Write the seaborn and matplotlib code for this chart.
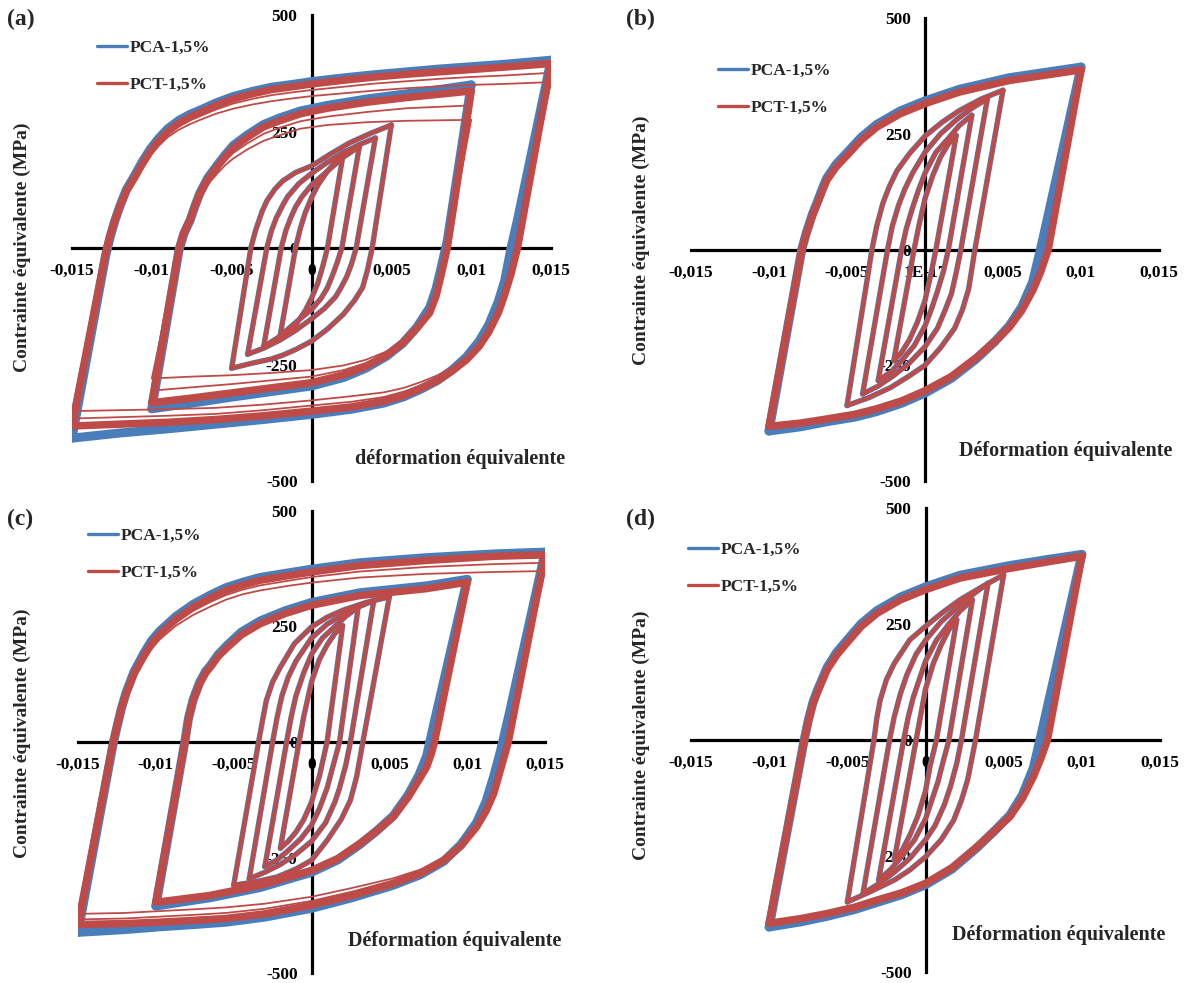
import matplotlib
matplotlib.use("Agg")
import matplotlib.pyplot as plt
from matplotlib.lines import Line2D
import seaborn as sns

# ---------------- values (strain [-], stress [MPa]) ----------------
SERIES = ["PCA-1,5%", "PCT-1,5%"]
XTICKS = [-0.015, -0.01, -0.005, 0, 0.005, 0.01, 0.015]
XTICK_LABELS = ["-0,015", "-0,01", "-0,005", "0", "0,005", "0,01", "0,015"]
XTICK_LABELS_B = ["-0,015", "-0,01", "-0,005", "1E-17", "0,005", "0,01", "0,015"]
YTICKS = [-500, -250, 0, 250, 500]
YTICK_LABELS = ["-500", "-250", "0", "250", "500"]
YMINOR = [-375, -125, 125, 375]

# ---- panel (a) ----
A15_UP_X = [-0.015, -0.0129, -0.0126, -0.0123, -0.012, -0.0116, -0.0111, -0.0106, -0.0101, -0.0096, -0.009, -0.0083, -0.0076, -0.0069, -0.006, -0.0049, -0.0037, -0.0025, -0.0012, 0.0, 0.002, 0.004, 0.006, 0.008, 0.010, 0.012, 0.015]
A15_UP_PCT = [-382, -10, 30, 62, 89, 122, 150, 180, 207, 229, 250, 268, 281, 292, 306, 320, 331, 340, 346, 352, 360, 367, 373, 378, 383, 388, 396]
A15_UP_PCA = [-408, -18, 25, 60, 90, 125, 154, 185, 212, 234, 256, 274, 287, 297, 311, 325, 336, 345, 351, 357, 365, 372, 378, 384, 389, 394, 403]
A15_UP_PCT_C1 = [-350, 5, 40, 68, 92, 120, 148, 175, 198, 218, 238, 254, 266, 276, 288, 299, 308, 315, 321, 326, 332, 338, 343, 347, 350, 352, 356]
A15_UP_PCT_C2 = [-366, -3, 35, 65, 90, 121, 149, 178, 203, 224, 244, 261, 274, 284, 297, 310, 320, 328, 334, 339, 346, 353, 358, 363, 367, 370, 376]
A15_DN_X = [-0.015, -0.012, -0.009, -0.006, -0.003, 0.0, 0.0025, 0.0045, 0.0058, 0.0069, 0.0079, 0.0088, 0.0097, 0.0105, 0.0111, 0.0117, 0.0121, 0.0125, 0.0129, 0.015]
A15_DN_PCT = [-382, -378, -374, -368, -360, -350, -341, -329, -316, -300, -284, -264, -240, -211, -180, -139, -100, -55, 0, 396]
A15_DN_PCA = [-408, -397, -388, -378, -368, -357, -346, -333, -319, -302, -284, -262, -234, -200, -165, -115, -70, 0, 60, 403]
A15_DN_PCT_C1 = [-350, -348, -346, -343, -336, -327, -318, -310, -300, -287, -273, -256, -234, -207, -177, -139, -100, -55, 0, 356]
A15_DN_PCT_C2 = [-366, -363, -360, -356, -348, -338, -330, -320, -308, -294, -279, -260, -237, -209, -179, -139, -100, -55, 0, 376]

A10_UP_X = [-0.010, -0.0083, -0.008, -0.0076, -0.0073, -0.007, -0.0065, -0.0059, -0.0054, -0.0049, -0.004, -0.003, -0.002, -0.0007, 0.001, 0.0035, 0.006, 0.008, 0.010]
A10_UP_PCT = [-332, 0, 33, 61, 90, 116, 148, 175, 196, 215, 238, 260, 273, 288, 300, 313, 323, 330, 337]
A10_UP_PCA = [-345, -5, 30, 60, 90, 117, 150, 178, 200, 220, 243, 265, 279, 294, 306, 320, 331, 340, 350]
A10_UP_PCT_C1 = [-280, 0, 32, 58, 84, 108, 136, 160, 178, 192, 212, 230, 242, 256, 264, 270, 273, 274, 275]
A10_UP_PCT_C2 = [-306, 0, 33, 60, 87, 112, 142, 168, 187, 204, 225, 245, 258, 272, 282, 292, 300, 303, 306]
A10_DN_X = [-0.010, -0.0075, -0.005, -0.0025, 0.0, 0.002, 0.0034, 0.0047, 0.0057, 0.0066, 0.0074, 0.0078, 0.0081, 0.0085, 0.010]
A10_DN_PCT = [-332, -322, -311, -300, -289, -272, -254, -230, -204, -172, -139, -103, -61, 0, 337]
A10_DN_PCA = [-345, -333, -320, -308, -296, -278, -258, -232, -205, -170, -128, -88, -45, 15, 350]
A10_DN_PCT_C1 = [-280, -276, -273, -268, -262, -252, -240, -222, -200, -172, -139, -103, -61, 0, 275]
A10_DN_PCT_C2 = [-306, -299, -292, -284, -276, -262, -247, -226, -202, -172, -139, -103, -61, 0, 306]

A05_UP_X = [-0.005, -0.0038, -0.0035, -0.0031, -0.0028, -0.0023, -0.0018, -0.001, 0.0, 0.0012, 0.0024, 0.0037, 0.005]
A05_UP = [-258, 0, 38, 78, 101, 126, 144, 162, 176, 202, 226, 246, 264]
A05_DN_X = [-0.005, -0.0037, -0.0025, -0.0018, -0.001, 0.0, 0.001, 0.002, 0.0027, 0.0032, 0.0035, 0.0038, 0.005]
A05_DN = [-258, -247, -238, -230, -218, -200, -174, -142, -112, -85, -48, 0, 264]
A04_UP_X = [-0.004, -0.0028, -0.0025, -0.0022, -0.0018, -0.0015, -0.0008, 0.0, 0.001, 0.002, 0.003, 0.004]
A04_UP = [-228, 0, 38, 65, 92, 110, 138, 160, 184, 205, 222, 236]
A04_DN_X = [-0.004, -0.003, -0.002, -0.001, 0.0, 0.0008, 0.0015, 0.0018, 0.0022, 0.0025, 0.0028, 0.004]
A04_DN = [-228, -215, -198, -177, -152, -130, -105, -88, -62, -35, 0, 236]
A03_UP_X = [-0.003, -0.0019, -0.0016, -0.0013, -0.001, -0.0006, 0.0, 0.001, 0.002, 0.003]
A03_UP = [-212, 0, 38, 65, 88, 110, 135, 165, 195, 218]
A03_DN_X = [-0.003, -0.002, -0.001, 0.0, 0.0006, 0.001, 0.0013, 0.0016, 0.0019, 0.003]
A03_DN = [-212, -190, -160, -132, -108, -85, -60, -32, 0, 218]
A02_UP_X = [-0.002, -0.001, -0.0007, -0.0004, 0.0, 0.0004, 0.001, 0.002]
A02_UP = [-195, 0, 42, 75, 108, 135, 165, 205]
A02_DN_X = [-0.002, -0.001, -0.0004, 0.0, 0.0004, 0.0007, 0.001, 0.002]
A02_DN = [-195, -165, -135, -108, -75, -40, 0, 205]

# ---- panel (b) ----
B10_UP_X = [-0.010, -0.0079, -0.0076, -0.0072, -0.0069, -0.0066, -0.0063, -0.0057, -0.005, -0.0041, -0.0031, -0.0016, 0.0, 0.0022, 0.0054, 0.008, 0.010]
B10_UP_PCT = [-382, 0, 35, 75, 99, 125, 149, 178, 203, 236, 264, 293, 315, 340, 365, 378, 388]
B10_UP_PCA = [-392, 0, 37, 78, 103, 130, 154, 184, 209, 242, 270, 299, 321, 346, 371, 384, 394]
B10_DN_X = [-0.010, -0.008, -0.0063, -0.0045, -0.0031, -0.0015, 0.0, 0.0017, 0.0033, 0.0045, 0.0054, 0.0062, 0.0069, 0.0074, 0.0079, 0.010]
B10_DN_PCT = [-382, -375, -366, -356, -344, -327, -305, -274, -233, -198, -168, -132, -89, -50, 0, 388]
B10_DN_PCA = [-392, -383, -372, -362, -350, -332, -310, -278, -236, -198, -165, -124, -70, 0, 75, 394]

B05_UP_X = [-0.005, -0.0034, -0.0031, -0.0027, -0.0023, -0.0018, -0.001, 0.0, 0.0011, 0.0022, 0.0036, 0.005]
B05_UP = [-337, 0, 50, 100, 135, 170, 207, 245, 275, 300, 325, 344]
B05_DN_X = [-0.005, -0.0036, -0.0022, -0.0011, 0.0, 0.001, 0.0019, 0.0024, 0.0028, 0.0032, 0.005]
B05_DN = [-337, -320, -298, -275, -250, -212, -170, -130, -85, 0, 344]
B04_UP_X = [-0.004, -0.0024, -0.0021, -0.0017, -0.0013, -0.0008, 0.0, 0.001, 0.002, 0.003, 0.004]
B04_UP = [-312, 0, 50, 95, 130, 165, 210, 250, 280, 305, 326]
B04_DN_X = [-0.004, -0.003, -0.002, -0.001, 0.0, 0.0008, 0.0013, 0.0017, 0.002, 0.0023, 0.004]
B04_DN = [-312, -295, -272, -245, -210, -170, -130, -95, -50, 0, 326]
B03_UP_X = [-0.003, -0.0015, -0.0012, -0.0008, -0.0004, 0.0, 0.0007, 0.0015, 0.0022, 0.003]
B03_UP = [-283, 0, 45, 90, 130, 165, 210, 240, 268, 290]
B03_DN_X = [-0.003, -0.0022, -0.0015, -0.0007, 0.0, 0.0004, 0.0008, 0.0012, 0.0015, 0.003]
B03_DN = [-283, -265, -240, -208, -165, -130, -90, -45, 0, 290]
B02_UP_X = [-0.002, -0.0007, -0.0004, 0.0, 0.0005, 0.001, 0.0015, 0.002]
B02_UP = [-240, 0, 50, 110, 160, 200, 228, 246]
B02_DN_X = [-0.002, -0.0015, -0.001, -0.0005, 0.0, 0.0004, 0.0007, 0.002]
B02_DN = [-240, -222, -195, -158, -110, -50, 0, 246]

# ---- panel (c) ----
C15_UP_X = [-0.015, -0.01275, -0.0125, -0.0122, -0.0119, -0.0114, -0.0108, -0.0103, -0.00975, -0.0087, -0.0076, -0.0065, -0.0055, -0.0044, -0.0033, -0.0015, 0.0, 0.0031, 0.0074, 0.0117, 0.015]
C15_UP_PCT = [-395, 0, 35, 75, 105, 148, 184, 212, 234, 266, 292, 312, 328, 340, 350, 360, 368, 382, 393, 402, 405]
C15_UP_PCA = [-412, -5, 32, 74, 108, 152, 190, 218, 240, 272, 298, 318, 334, 346, 356, 366, 374, 388, 399, 407, 411]
C15_UP_PCT_C1 = [-372, 0, 34, 72, 100, 140, 175, 200, 222, 252, 275, 293, 308, 320, 328, 338, 345, 356, 364, 368, 370]
C15_UP_PCT_C2 = [-384, 0, 35, 74, 103, 144, 180, 206, 228, 259, 284, 303, 318, 330, 339, 349, 357, 369, 379, 385, 388]
C15_DN_X = [-0.015, -0.012, -0.00975, -0.0075, -0.0055, -0.003, 0.0, 0.0026, 0.00525, 0.007, 0.0085, 0.0096, 0.0106, 0.0112, 0.0117, 0.0121, 0.01264, 0.015]
C15_DN_PCT = [-395, -393, -390, -386, -382, -372, -353, -332, -306, -284, -256, -225, -184, -150, -112, -65, 0, 405]
C15_DN_PCA = [-412, -406, -400, -395, -390, -379, -360, -337, -310, -287, -258, -222, -175, -130, -75, -25, 52, 411]
C15_DN_PCT_C1 = [-372, -370, -366, -362, -358, -350, -335, -316, -295, -276, -250, -222, -182, -148, -112, -65, 0, 370]
C15_DN_PCT_C2 = [-384, -382, -378, -374, -370, -361, -344, -324, -300, -280, -253, -224, -183, -149, -112, -65, 0, 388]

C10_UP_X = [-0.010, -0.00814, -0.0079, -0.0076, -0.0072, -0.0068, -0.0065, -0.006, -0.0054, -0.0045, -0.0033, -0.0017, 0.0, 0.0031, 0.0074, 0.010]
C10_UP_PCT = [-347, 0, 50, 90, 125, 150, 162, 185, 205, 232, 256, 278, 296, 317, 332, 346]
C10_UP_PCA = [-355, 0, 52, 92, 128, 153, 165, 189, 210, 238, 262, 284, 302, 323, 338, 352]
C10_DN_X = [-0.010, -0.0065, -0.0033, 0.0, 0.0017, 0.0031, 0.0042, 0.00525, 0.0062, 0.0069, 0.0074, 0.0077, 0.0079, 0.010]
C10_DN_PCT = [-347, -332, -310, -278, -252, -220, -192, -162, -120, -82, -54, -25, 0, 346]
C10_DN_PCA = [-355, -337, -315, -282, -255, -222, -192, -160, -115, -72, -30, 15, 45, 352]

C05_UP_X = [-0.005, -0.0034, -0.0031, -0.0029, -0.0025, -0.002, -0.0011, 0.0, 0.001, 0.002, 0.0035, 0.005]
C05_UP = [-310, 0, 55, 90, 130, 162, 213, 249, 270, 285, 302, 314]
C05_DN_X = [-0.005, -0.0035, -0.0022, -0.001, 0.0, 0.001, 0.0019, 0.0025, 0.0029, 0.0033, 0.005]
C05_DN = [-310, -302, -292, -275, -256, -213, -168, -126, -75, 0, 314]
C04_UP_X = [-0.004, -0.0025, -0.0022, -0.0019, -0.0015, -0.001, 0.0, 0.001, 0.002, 0.003, 0.004]
C04_UP = [-296, 0, 55, 100, 140, 175, 225, 255, 275, 292, 306]
C04_DN_X = [-0.004, -0.003, -0.002, -0.001, 0.0, 0.0009, 0.0015, 0.0018, 0.0022, 0.0025, 0.004]
C04_DN = [-296, -282, -265, -243, -215, -175, -130, -100, -50, 0, 306]
C03_UP_X = [-0.003, -0.0016, -0.0013, -0.001, -0.0005, 0.0, 0.0007, 0.0015, 0.0022, 0.003]
C03_UP = [-270, 0, 55, 100, 150, 190, 225, 250, 272, 292]
C03_DN_X = [-0.003, -0.0022, -0.0015, -0.0007, 0.0, 0.0005, 0.001, 0.0014, 0.0018, 0.003]
C03_DN = [-270, -255, -235, -210, -180, -145, -100, -50, 0, 292]
C02_UP_X = [-0.002, -0.0008, -0.0005, 0.0, 0.0005, 0.001, 0.0015, 0.002]
C02_UP = [-230, 0, 55, 130, 178, 210, 235, 252]
C02_DN_X = [-0.002, -0.0015, -0.001, -0.0005, 0.0, 0.0005, 0.001, 0.002]
C02_DN = [-230, -215, -195, -168, -130, -75, 0, 252]

# ---- panel (d) ----
D10_UP_X = [-0.010, -0.00776, -0.0075, -0.0072, -0.00695, -0.0066, -0.0063, -0.0057, -0.00503, -0.0041, -0.0031, -0.0016, 0.0, 0.0022, 0.0054, 0.008, 0.010]
D10_UP_PCT = [-395, 0, 40, 78, 100, 128, 151, 182, 209, 245, 273, 302, 324, 349, 370, 385, 396]
D10_UP_PCA = [-403, 0, 42, 81, 104, 132, 156, 188, 215, 251, 279, 308, 330, 355, 376, 390, 400]
D10_DN_X = [-0.010, -0.008, -0.0063, -0.0045, -0.0031, -0.0015, 0.0, 0.0017, 0.0033, 0.0045, 0.0054, 0.0062, 0.0069, 0.0074, 0.0078, 0.010]
D10_DN_PCT = [-395, -385, -374, -360, -345, -329, -309, -275, -230, -193, -165, -126, -79, -38, 0, 396]
D10_DN_PCA = [-403, -392, -380, -365, -350, -333, -312, -278, -232, -193, -162, -118, -60, 12, 72, 400]

D05_UP_X = [-0.005, -0.0033, -0.0031, -0.0029, -0.0025, -0.002, -0.001, 0.0, 0.0011, 0.0022, 0.0036, 0.005]
D05_UP = [-349, 0, 50, 86, 130, 165, 216, 245, 275, 302, 330, 356]
D05_DN_X = [-0.005, -0.0036, -0.002, -0.001, 0.0, 0.001, 0.0018, 0.0023, 0.0027, 0.0032, 0.005]
D05_DN = [-349, -328, -302, -280, -252, -215, -173, -130, -85, 0, 356]
D04_UP_X = [-0.004, -0.0023, -0.002, -0.0016, -0.0012, -0.0006, 0.0, 0.001, 0.002, 0.003, 0.004]
D04_UP = [-331, 0, 50, 100, 140, 185, 215, 255, 285, 313, 338]
D04_DN_X = [-0.004, -0.003, -0.002, -0.001, 0.0, 0.0006, 0.0012, 0.0016, 0.002, 0.0023, 0.004]
D04_DN = [-331, -310, -285, -255, -215, -185, -140, -100, -50, 0, 338]
D03_UP_X = [-0.003, -0.0014, -0.0011, -0.0008, -0.0004, 0.0, 0.0007, 0.0015, 0.0022, 0.003]
D03_UP = [-302, 0, 50, 90, 130, 170, 215, 250, 278, 302]
D03_DN_X = [-0.003, -0.0022, -0.0015, -0.0007, 0.0, 0.0004, 0.0008, 0.0011, 0.0015, 0.003]
D03_DN = [-302, -278, -250, -215, -170, -130, -90, -50, 0, 302]
D02_UP_X = [-0.002, -0.0006, -0.0003, 0.0, 0.0005, 0.001, 0.0015, 0.002]
D02_UP = [-259, 0, 55, 110, 165, 205, 238, 259]
D02_DN_X = [-0.002, -0.0015, -0.001, -0.0005, 0.0, 0.0003, 0.0007, 0.002]
D02_DN = [-259, -238, -205, -165, -110, -55, 0, 259]

# ---------------- style ----------------
BLUE = "#4A7EBB"
RED = "#BE4B48"
sns.set_style("white")
plt.rcParams["font.family"] = ["Liberation Serif", "DejaVu Serif"]
plt.rcParams["font.weight"] = "bold"

W, H = 1187, 983
fig = plt.figure(figsize=(W / 100, H / 100), dpi=100)


def px_axes(x0, x1, y0, y1):
    return fig.add_axes([x0 / W, 1 - y1 / H, (x1 - x0) / W, (y1 - y0) / H])


def branch(ax, xs, ys, color, lw, z):
    sns.lineplot(x=xs, y=ys, ax=ax, color=color, linewidth=lw, estimator=None,
                 sort=True, legend=False, zorder=z)


def small_loops(ax, loops, color, lw, z):
    for ux, uy, dx, dy in loops:
        branch(ax, ux, uy, color, lw, z)
        branch(ax, dx, dy, color, lw, z)


def style(ax, xlabels):
    ax.set_xlim(-0.015, 0.015)
    ax.set_ylim(-500, 500)
    ax.patch.set_alpha(0)
    for s in ["top", "right"]:
        ax.spines[s].set_visible(False)
    for s in ["left", "bottom"]:
        ax.spines[s].set_position(("data", 0))
        ax.spines[s].set_linewidth(2.3)
        ax.spines[s].set_color("black")
        ax.spines[s].set_zorder(1.8)
    ax.set_xticks(XTICKS)
    ax.set_xticklabels(xlabels)
    ax.set_yticks(YTICKS)
    ax.set_yticklabels(YTICK_LABELS)
    ax.set_yticks(YMINOR, minor=True)
    ax.tick_params(axis="both", which="both", direction="out", length=5, width=2.2,
                   color="black", labelsize=12.5, labelcolor="black")
    ax.tick_params(axis="x", pad=6)
    ax.tick_params(axis="y", pad=5)
    ax.grid(False)
    ax.set_xlabel("")
    ax.set_ylabel("")


def legend(ax, x, y):
    handles = [Line2D([], [], color=BLUE, lw=2.4), Line2D([], [], color=RED, lw=2.4)]
    ax.legend(handles, SERIES, loc="upper left", bbox_to_anchor=(x / W, 1 - y / H),
              bbox_transform=fig.transFigure, frameon=False, handlelength=1.75,
              handletextpad=0.12, labelspacing=1.2, borderpad=0, borderaxespad=0,
              prop={"size": 12.5, "weight": "bold"})


LW_BIG_R, LW_BIG_B = 5.4, 6.5
LW_R, LW_B = 3.0, 3.9
LW_THIN = 1.3

# ---- (a) ----
ax = px_axes(72, 551, 15, 481)
a_small = [(A05_UP_X, A05_UP, A05_DN_X, A05_DN), (A04_UP_X, A04_UP, A04_DN_X, A04_DN),
           (A03_UP_X, A03_UP, A03_DN_X, A03_DN), (A02_UP_X, A02_UP, A02_DN_X, A02_DN)]
branch(ax, A15_UP_X, A15_UP_PCA, BLUE, LW_BIG_B, 2)
branch(ax, A15_DN_X, A15_DN_PCA, BLUE, LW_BIG_B, 2)
branch(ax, A10_UP_X, A10_UP_PCA, BLUE, LW_BIG_B, 2)
branch(ax, A10_DN_X, A10_DN_PCA, BLUE, LW_BIG_B, 2)
small_loops(ax, a_small, BLUE, LW_B, 2)
for ys in (A15_UP_PCT_C1, A15_UP_PCT_C2):
    branch(ax, A15_UP_X, ys, RED, LW_THIN, 3)
for ys in (A15_DN_PCT_C1, A15_DN_PCT_C2):
    branch(ax, A15_DN_X, ys, RED, LW_THIN, 3)
for ys in (A10_UP_PCT_C1, A10_UP_PCT_C2):
    branch(ax, A10_UP_X, ys, RED, LW_THIN, 3)
for ys in (A10_DN_PCT_C1, A10_DN_PCT_C2):
    branch(ax, A10_DN_X, ys, RED, LW_THIN, 3)
branch(ax, A15_UP_X, A15_UP_PCT, RED, LW_BIG_R, 3)
branch(ax, A15_DN_X, A15_DN_PCT, RED, LW_BIG_R, 3)
branch(ax, A10_UP_X, A10_UP_PCT, RED, LW_BIG_R, 3)
branch(ax, A10_DN_X, A10_DN_PCT, RED, LW_BIG_R, 3)
small_loops(ax, a_small, RED, LW_R, 3)
style(ax, XTICK_LABELS)
legend(ax, 97, 40)

# ---- (b) ----
ax = px_axes(691, 1159, 18, 481)
b_small = [(B05_UP_X, B05_UP, B05_DN_X, B05_DN), (B04_UP_X, B04_UP, B04_DN_X, B04_DN),
           (B03_UP_X, B03_UP, B03_DN_X, B03_DN), (B02_UP_X, B02_UP, B02_DN_X, B02_DN)]
branch(ax, B10_UP_X, B10_UP_PCA, BLUE, LW_BIG_B, 2)
branch(ax, B10_DN_X, B10_DN_PCA, BLUE, LW_BIG_B, 2)
small_loops(ax, b_small, BLUE, LW_B, 2)
branch(ax, B10_UP_X, B10_UP_PCT, RED, LW_BIG_R, 3)
branch(ax, B10_DN_X, B10_DN_PCT, RED, LW_BIG_R, 3)
small_loops(ax, b_small, RED, LW_R, 3)
style(ax, XTICK_LABELS_B)
legend(ax, 718, 63)

# ---- (c) ----
ax = px_axes(78, 545, 511, 973)
c_small = [(C05_UP_X, C05_UP, C05_DN_X, C05_DN), (C04_UP_X, C04_UP, C04_DN_X, C04_DN),
           (C03_UP_X, C03_UP, C03_DN_X, C03_DN), (C02_UP_X, C02_UP, C02_DN_X, C02_DN)]
branch(ax, C15_UP_X, C15_UP_PCA, BLUE, LW_BIG_B, 2)
branch(ax, C15_DN_X, C15_DN_PCA, BLUE, LW_BIG_B, 2)
branch(ax, C10_UP_X, C10_UP_PCA, BLUE, LW_BIG_B, 2)
branch(ax, C10_DN_X, C10_DN_PCA, BLUE, LW_BIG_B, 2)
small_loops(ax, c_small, BLUE, LW_B, 2)
for ys in (C15_UP_PCT_C1, C15_UP_PCT_C2):
    branch(ax, C15_UP_X, ys, RED, LW_THIN, 3)
for ys in (C15_DN_PCT_C1, C15_DN_PCT_C2):
    branch(ax, C15_DN_X, ys, RED, LW_THIN, 3)
branch(ax, C15_UP_X, C15_UP_PCT, RED, LW_BIG_R, 3)
branch(ax, C15_DN_X, C15_DN_PCT, RED, LW_BIG_R, 3)
branch(ax, C10_UP_X, C10_UP_PCT, RED, LW_BIG_R, 3)
branch(ax, C10_DN_X, C10_DN_PCT, RED, LW_BIG_R, 3)
small_loops(ax, c_small, RED, LW_R, 3)
style(ax, XTICK_LABELS)
legend(ax, 88, 528)

# ---- (d) ----
ax = px_axes(691, 1160, 508, 972)
d_small = [(D05_UP_X, D05_UP, D05_DN_X, D05_DN), (D04_UP_X, D04_UP, D04_DN_X, D04_DN),
           (D03_UP_X, D03_UP, D03_DN_X, D03_DN), (D02_UP_X, D02_UP, D02_DN_X, D02_DN)]
branch(ax, D10_UP_X, D10_UP_PCA, BLUE, LW_BIG_B, 2)
branch(ax, D10_DN_X, D10_DN_PCA, BLUE, LW_BIG_B, 2)
small_loops(ax, d_small, BLUE, LW_B, 2)
branch(ax, D10_UP_X, D10_UP_PCT, RED, LW_BIG_R, 3)
branch(ax, D10_DN_X, D10_DN_PCT, RED, LW_BIG_R, 3)
small_loops(ax, d_small, RED, LW_R, 3)
style(ax, XTICK_LABELS)
legend(ax, 688, 542)

# ---------------- texts ----------------
YT = "Contrainte équivalente (MPa)"
for (x, y) in [(22, 247), (641, 240), (22, 733), (641, 735)]:
    fig.text(x / W, 1 - y / H, YT, rotation=90, ha="center", va="center",
             fontsize=14, fontweight="bold")
for (x, y, t) in [(460, 459, "déformation équivalente"), (1066, 451, "Déformation équivalente"),
                  (455, 941, "Déformation équivalente"), (1059, 935, "Déformation équivalente")]:
    fig.text(x / W, 1 - y / H, t, ha="center", va="center", fontsize=14.5, fontweight="bold")
for (x, y, t) in [(7, 19, "(a)"), (626, 19, "(b)"), (7, 519, "(c)"), (626, 519, "(d)")]:
    fig.text(x / W, 1 - y / H, t, ha="left", va="center", fontsize=17, fontweight="bold")

fig.savefig("out.png", dpi=100)
